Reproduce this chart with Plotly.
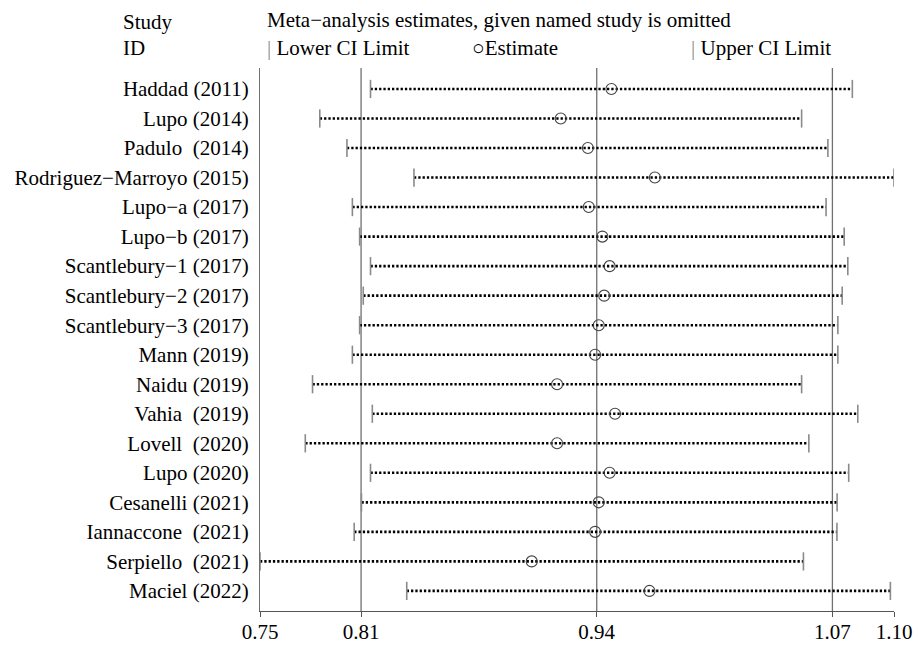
import plotly.graph_objects as go

studies = ["Haddad (2011)", "Lupo (2014)", "Padulo  (2014)", "Rodriguez\u2212Marroyo (2015)",
           "Lupo\u2212a (2017)", "Lupo\u2212b (2017)", "Scantlebury\u22121 (2017)",
           "Scantlebury\u22122 (2017)", "Scantlebury\u22123 (2017)", "Mann (2019)",
           "Naidu (2019)", "Vahia  (2019)", "Lovell  (2020)", "Lupo (2020)",
           "Cesanelli (2021)", "Iannaccone  (2021)", "Serpiello  (2021)", "Maciel (2022)"]
lower = [0.811, 0.783, 0.798, 0.835, 0.801, 0.805, 0.811, 0.807, 0.805,
         0.801, 0.779, 0.812, 0.775, 0.811, 0.806, 0.802, 0.750, 0.831]
estimate = [0.944, 0.916, 0.931, 0.968, 0.9315, 0.939, 0.943, 0.940, 0.937,
            0.935, 0.914, 0.946, 0.914, 0.943, 0.937, 0.935, 0.900, 0.965]
upper = [1.077, 1.049, 1.0635, 1.100, 1.0625, 1.0725, 1.0745, 1.0714, 1.069,
         1.069, 1.049, 1.080, 1.053, 1.075, 1.0686, 1.0685, 1.050, 1.098]
overall = [0.8058, 0.9359, 1.0660]
tick_vals = [0.75, 0.8058, 0.9359, 1.0660, 1.10]
tick_text = ["0.75", "0.81", "0.94", "1.07", "1.10"]

FONT = "Liberation Serif, Times New Roman, serif"
FS = 21
idx = list(range(len(studies)))

# page offset from default body margin
OFF = 8
W, H = 913, 637
L, T = 252, 60
R = W - 886.5
B = H - 603
PW, PH = W - L - R, H - T - B

fig = go.Figure()

for i in idx:
    fig.add_trace(go.Scatter(x=[lower[i], upper[i]], y=[i, i], mode="lines",
                             line=dict(color="black", width=2.6, dash="2.3px,2px"),
                             hoverinfo="skip", showlegend=False))
fig.add_trace(go.Scatter(x=lower, y=idx, mode="markers",
                         marker=dict(symbol="line-ns", size=13, color="#8a8a8a",
                                     line=dict(color="#8a8a8a", width=1.6)),
                         showlegend=False))
fig.add_trace(go.Scatter(x=upper, y=idx, mode="markers",
                         marker=dict(symbol="line-ns", size=13, color="#8a8a8a",
                                     line=dict(color="#8a8a8a", width=1.6)),
                         showlegend=False))
fig.add_trace(go.Scatter(x=estimate, y=idx, mode="markers",
                         marker=dict(symbol="circle-open", size=11, color="#444444",
                                     line=dict(color="#444444", width=1.1)),
                         showlegend=False))

for v in overall:
    fig.add_shape(type="line", xref="x", yref="paper", x0=v, x1=v, y0=0, y1=1,
                  line=dict(color="#707070", width=1.3), layer="below")

fig.update_layout(
    width=W, height=H,
    margin=dict(l=L, r=R, t=T, b=B, autoexpand=False),
    plot_bgcolor="white", paper_bgcolor="white",
    font=dict(family=FONT, size=FS, color="black"),
    xaxis=dict(range=[0.75, 1.10], tickvals=tick_vals, ticktext=tick_text,
               showgrid=False, zeroline=False, showline=True, linecolor="#555555",
               linewidth=1.2, ticks="outside", ticklen=5, tickcolor="#555555",
               automargin=False, ticklabelstandoff=-3,
               tickfont=dict(family=FONT, size=FS, color="black")),
    yaxis=dict(range=[17.68, -0.71], tickvals=idx, ticktext=studies,
               showgrid=False, zeroline=False, showline=True, linecolor="#707070",
               linewidth=1.3, ticks="", ticklabelstandoff=6, automargin=False,
               tickfont=dict(family=FONT, size=FS, color="black")),
)

ann = [
    ("Study", 121, 22),
    ("ID", 121, 48),
    ("Meta\u2212analysis estimates, given named study is omitted", 265, 20),
    ("<span style='color:#8a8a8a'>|</span> Lower CI Limit", 265, 48),
    ("\u25cbEstimate", 470, 48),
    ("<span style='color:#8a8a8a'>|</span> Upper CI Limit", 689, 48),
]
for text, xp, yp in ann:
    fig.add_annotation(text=text, xref="paper", yref="paper",
                       x=(xp - OFF - L) / PW,
                       y=1 + (T - (yp - OFF)) / PH,
                       xanchor="left", yanchor="middle", showarrow=False,
                       font=dict(family=FONT, size=FS, color="black"))

fig.write_html("out.html")
